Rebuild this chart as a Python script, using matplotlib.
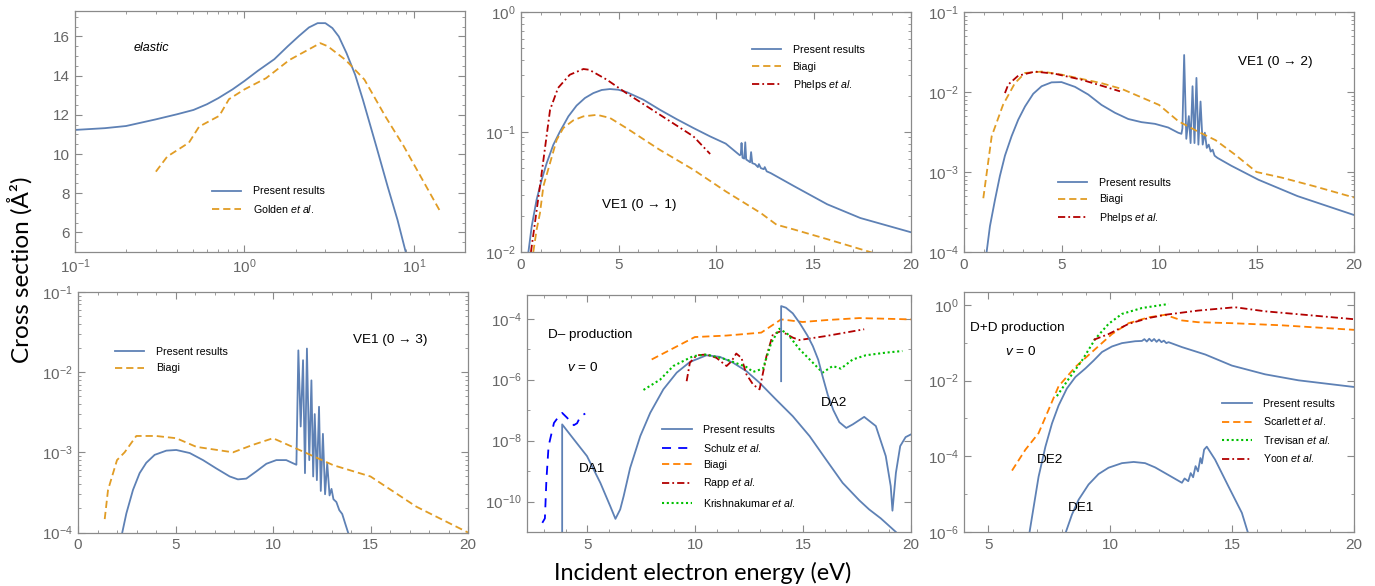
import numpy as np
import matplotlib
matplotlib.use('Agg')
import matplotlib.pyplot as plt
from matplotlib.ticker import MultipleLocator, NullFormatter, LogLocator

plt.rcParams['font.family'] = ['Liberation Sans', 'DejaVu Sans']
plt.rcParams['mathtext.fontset'] = 'custom'
plt.rcParams['mathtext.rm'] = 'Liberation Sans'
plt.rcParams['mathtext.it'] = 'Liberation Sans:italic'

# ---- data ----
# elastic
el_E = [0.1, 0.15, 0.2, 0.3, 0.4, 0.5, 0.6, 0.7, 0.85, 1.0, 1.2, 1.5, 1.8, 2.1, 2.4, 2.7, 3.0, 3.3, 3.6, 4.0, 4.5,
        5.0, 6.0, 7.0, 8.0, 9.0, 10.0]
el_sig = [11.23, 11.32, 11.43, 11.77, 12.03, 12.25, 12.54, 12.85, 13.3, 13.73, 14.25, 14.84, 15.5, 16.03, 16.46, 16.68,
          16.68, 16.43, 16.0, 15.15, 14.04, 12.76, 10.38, 8.33, 6.63, 4.9, 3.8]
golden_E = [0.3, 0.35, 0.47, 0.54, 0.71, 0.81, 1.0, 1.34, 1.84, 2.8, 3.1, 3.95, 5.1, 6.8, 8.7, 14.3]
golden_sig = [9.1, 9.87, 10.58, 11.4, 11.95, 12.8, 13.3, 13.87, 14.8, 15.66, 15.5, 14.8, 13.8, 11.9, 10.4, 7.06]

# VE1 (0 -> 1)
v1_E = [0.3, 0.38, 0.55, 0.8, 1.06, 1.32, 1.66, 2.0, 2.43, 2.85, 3.28, 3.71, 4.14, 4.56, 4.99, 5.42, 6.27, 7.13, 7.98,
        8.84, 9.69, 10.5, 11.22, 11.27, 11.31, 11.36, 11.45, 11.5, 11.55, 11.62, 11.75, 11.8, 11.86, 12.0, 12.15,
        12.2, 12.3, 12.45, 12.5, 12.6, 12.8, 14.0, 15.7, 17.4, 20.0]
v1_sig = [0.007, 0.01, 0.0164, 0.0273, 0.040, 0.0552, 0.0784, 0.101, 0.135, 0.166, 0.192, 0.211, 0.224, 0.228, 0.225,
          0.215, 0.186, 0.153, 0.128, 0.108, 0.092, 0.080, 0.064, 0.065, 0.081, 0.061, 0.060, 0.082, 0.059, 0.058,
          0.056, 0.068, 0.055, 0.054, 0.051, 0.054, 0.050, 0.049, 0.051, 0.047, 0.0455, 0.0354, 0.025, 0.0192, 0.0146]
v1_biagi_E = [0.63, 0.8, 0.97, 1.15, 1.49, 1.83, 2.17, 2.68, 3.2, 3.9, 4.56, 5.4, 7.1, 8.84, 10.5, 12.3, 13.1, 14.0, 15.7, 17.9, 19.0]
v1_biagi_sig = [0.01, 0.0153, 0.021, 0.0354, 0.0552, 0.086, 0.108, 0.125, 0.135, 0.139, 0.131, 0.108, 0.0713, 0.0485,
                0.032, 0.0211, 0.0169, 0.0154, 0.0128, 0.01, 0.0088]
v1_phelps_E = [0.51, 0.97, 1.49, 1.9, 2.5, 3.2, 3.5, 4.4, 5.4, 7.1, 8.84, 9.7]
v1_phelps_sig = [0.01, 0.0352, 0.153, 0.233, 0.30, 0.335, 0.33, 0.273, 0.211, 0.14, 0.092, 0.0656]

# VE1 (0 -> 2)
v2_E = [1.1, 1.16, 1.33, 1.59, 1.84, 2.1, 2.44, 2.78, 3.13, 3.55, 3.98, 4.49, 5.0, 5.69, 6.37, 7.05, 7.74, 8.42, 9.1,
        9.79, 10.47, 10.98, 11.15, 11.2, 11.29, 11.4, 11.53, 11.62, 11.72, 11.82, 11.92, 12.02, 12.13, 12.24, 12.35,
        12.45, 12.55, 12.65, 12.75, 12.85, 13.0, 13.7, 15.1, 17.1, 20.0]
v2_sig = [8e-5, 1e-4, 2.1e-4, 4.5e-4, 8.9e-4, 1.6e-3, 2.8e-3, 4.5e-3, 6.6e-3, 9.5e-3, 0.0118, 0.0132, 0.0133, 0.0116,
          9.3e-3, 6.9e-3, 5.5e-3, 4.6e-3, 4.2e-3, 4.0e-3, 3.6e-3, 3.1e-3, 3.0e-3, 3.5e-3, 0.029, 2.6e-3, 5e-3, 2.3e-3,
          0.0118, 2.3e-3, 0.015, 2.2e-3, 7.6e-3, 2.2e-3, 3.1e-3, 2.0e-3, 2.2e-3, 1.8e-3, 1.9e-3, 1.6e-3, 1.5e-3,
          1.2e-3, 8e-4, 5e-4, 2.9e-4]
v2_biagi_E = [0.99, 1.42, 2.0, 2.61, 3.13, 4.0, 5.0, 7.05, 8.1, 10.0, 11.0, 12.0, 12.9, 13.9, 15.0, 16.3, 18.0, 20.0]
v2_biagi_sig = [4.7e-4, 2.8e-3, 6.9e-3, 0.0129, 0.0173, 0.018, 0.0165, 0.0129, 0.0109, 6.9e-3, 4.3e-3, 3.2e-3, 2.5e-3, 1.65e-3, 1e-3, 8.5e-4, 6.6e-4, 4.8e-4]
v2_phelps_E = [2.1, 2.27, 2.78, 3.64, 4.66, 6.0, 7.05, 8.0]
v2_phelps_sig = [9.7e-3, 0.0124, 0.016, 0.018, 0.0169, 0.0143, 0.012, 0.0102]

# VE1 (0 -> 3)
v3_E = [2.2, 2.27, 2.48, 2.82, 3.16, 3.5, 3.93, 4.53, 5.04, 5.73, 6.41, 7.09, 7.78, 8.2, 8.63, 9.15, 9.66, 10.17, 10.68,
        11.03, 11.2, 11.3, 11.42, 11.54, 11.64, 11.74, 11.86, 11.97, 12.06, 12.14, 12.25, 12.36, 12.45, 12.56, 12.67,
        12.78, 12.9, 13.0, 13.1, 13.25, 13.4, 13.55, 13.7, 13.85, 14.0]
v3_sig = [8e-5, 1e-4, 1.73e-4, 3.4e-4, 5.5e-4, 7.4e-4, 9.3e-4, 1.05e-3, 1.07e-3, 9.8e-4, 8.0e-4, 6.3e-4, 5.0e-4, 4.6e-4,
          4.7e-4, 5.8e-4, 7.2e-4, 8.0e-4, 8.0e-4, 7.3e-4, 7.0e-4, 0.0187, 2.1e-3, 0.0141, 5.5e-4, 0.0197, 8e-4, 7.9e-3,
          5e-4, 3e-3, 4.5e-4, 3.7e-3, 3.3e-4, 1.7e-3, 3.0e-4, 7.4e-4, 2.9e-4, 3.5e-4, 2.6e-4, 2.4e-4, 1.9e-4, 1.7e-4,
          1.3e-4, 1e-4, 7e-5]
v3_biagi_E = [1.37, 1.54, 2.0, 2.39, 2.99, 4.0, 5.04, 6.07, 7.95, 8.97, 10.0, 11.0, 13.1, 15.0, 17.35, 20.0]
v3_biagi_sig = [1.47e-4, 3.4e-4, 8e-4, 1e-3, 1.6e-3, 1.6e-3, 1.5e-3, 1.17e-3, 1e-3, 1.24e-3, 1.5e-3, 1.17e-3, 6.9e-4, 5e-4, 2.1e-4, 1e-4]

# D- production
da1_E = [3.83, 3.83, 4.37, 4.98, 5.6, 6.06, 6.3, 6.52, 6.68, 6.98, 7.45, 7.91, 8.52, 9.14, 9.75, 10.52, 11.14, 11.75,
         12.37, 12.98, 13.75, 14.52, 15.3, 16.06, 16.83, 17.6, 18.06, 18.6, 19.3, 19.6]
da1_sig = [1e-12, 3.4e-8, 1.1e-8, 3.1e-9, 4.1e-10, 7e-11, 2.7e-11, 5.5e-11, 1.5e-10, 1.26e-9, 1.4e-8, 8.1e-8, 4.8e-7,
           1.7e-6, 3.8e-6, 6.3e-6, 5.6e-6, 3.6e-6, 1.9e-6, 7.9e-7, 2.2e-7, 6.3e-8, 1.4e-8, 2.4e-9, 4.1e-10, 1.1e-10,
           5.5e-11, 2.8e-11, 1e-11, 6e-12]
da2_E = [13.98, 13.98, 14.2, 14.52, 14.83, 15.2, 15.45, 15.7, 15.9, 16.14, 16.4, 16.68, 17.0, 17.3, 17.83, 18.37,
         18.83, 19.06, 19.14, 19.3, 19.5, 19.75, 20.0]
da2_sig = [8.9e-7, 2.6e-4, 2.3e-4, 1.5e-4, 7.4e-5, 2.8e-5, 1.26e-5, 4.5e-6, 1.3e-6, 3.2e-7, 1.0e-7, 4e-8, 2.6e-8,
           3.4e-8, 6e-8, 3e-8, 3.1e-9, 3.2e-10, 5e-11, 8.7e-10, 6.6e-9, 1.3e-8, 1.6e-8]
schulz_E = [2.91, 3.03, 3.1, 3.2, 3.45, 3.68, 3.83, 4.06, 4.37, 4.52, 4.68, 4.9]
schulz_sig = [2e-11, 2.8e-11, 5.2e-10, 6.6e-9, 3.8e-8, 6.3e-8, 8.1e-8, 5.6e-8, 3.2e-8, 3.7e-8, 6.3e-8, 7.7e-8]
dm_biagi_E = [7.98, 9.98, 11.45, 13.06, 13.98, 14.98, 16.06, 17.6, 20.0]
dm_biagi_sig = [4.6e-6, 2.5e-5, 2.8e-5, 3.5e-5, 9.5e-5, 7.8e-5, 9e-5, 1.05e-4, 9.5e-5]
rapp_E = [9.6, 9.75, 10.06, 10.52, 10.98, 11.45, 11.68, 11.9, 12.14, 12.37, 12.68, 12.98, 13.3, 13.6, 13.98, 14.52, 14.83, 16.06, 17.83]
rapp_sig = [8.9e-7, 3.6e-6, 6.3e-6, 6.7e-6, 5.2e-6, 2.8e-6, 4e-6, 7.2e-6, 5.2e-6, 1.5e-6, 6.9e-7, 4.8e-7, 5.9e-6, 3.1e-5, 3.9e-5, 2.4e-5, 2e-5, 2.7e-5, 4.5e-5]
krish_E = [7.6, 8.37, 8.98, 9.9, 10.52, 11.45, 12.37, 12.68, 13.14, 13.52, 13.9, 14.29, 14.83, 15.45, 15.9, 16.37, 16.75, 17.3, 17.9, 18.83, 19.6]
krish_sig = [4.6e-7, 1e-6, 2.8e-6, 5.9e-6, 6.7e-6, 4.6e-6, 2.6e-6, 1.8e-6, 2.3e-6, 1.6e-5, 4.7e-5, 3.1e-5, 1e-5, 3.6e-6, 1.7e-6, 2.8e-6, 2.3e-6, 4.6e-6, 6.3e-6, 7.7e-6, 8.7e-6]

# D+D production
de2_E = [6.6, 6.69, 6.86, 7.06, 7.34, 7.61, 7.88, 8.22, 8.57, 8.98, 9.32, 9.66, 10.07, 10.48, 11.02, 11.3, 11.4, 11.5,
         11.6, 11.7, 11.8, 11.9, 12.0, 12.1, 12.2, 12.3, 12.39, 12.94, 13.9, 14.99, 16.35, 17.72, 20.0]
de2_sig = [5e-7, 1e-6, 4.7e-6, 2.9e-5, 1.8e-4, 7.4e-4, 2.2e-3, 6.2e-3, 0.0125, 0.021, 0.034, 0.057, 0.08, 0.098, 0.11,
           0.112, 0.125, 0.108, 0.128, 0.11, 0.126, 0.106, 0.122, 0.104, 0.114, 0.098, 0.104, 0.077, 0.049, 0.025,
           0.0147, 0.0102, 6.8e-3]
de1_E = [8.1, 8.18, 8.43, 8.7, 9.11, 9.52, 9.93, 10.48, 10.96, 11.43, 11.84, 12.39, 12.94, 13.05, 13.2, 13.3, 13.4,
         13.5, 13.6, 13.7, 13.76, 13.85, 13.96, 14.3, 14.85, 15.4, 15.64, 15.8]
de1_sig = [6e-7, 1e-6, 2.9e-6, 7.1e-6, 1.8e-5, 3.4e-5, 5e-5, 6.6e-5, 7.1e-5, 6.6e-5, 5.1e-5, 3.2e-5, 2e-5, 2.6e-5,
           2.2e-5, 3.6e-5, 2.8e-5, 5.5e-5, 4e-5, 9e-5, 6.5e-5, 1.5e-4, 1.8e-4, 8.2e-5, 1.6e-5, 3.2e-6, 1e-6, 6e-7]
scarlett_E = [5.97, 6.52, 7.06, 7.47, 7.88, 8.57, 9.25, 10.07, 10.75, 11.57, 12.25, 12.94, 13.6, 14.99, 17.03, 20.0]
scarlett_sig = [4.2e-5, 1.5e-4, 4.1e-4, 1.7e-3, 7.1e-3, 0.023, 0.057, 0.17, 0.33, 0.47, 0.55, 0.39, 0.35, 0.33, 0.29, 0.22]
trevisan_E = [7.81, 8.29, 8.84, 9.39, 9.93, 10.48, 11.3, 12.39]
trevisan_sig = [3.9e-3, 0.011, 0.034, 0.128, 0.316, 0.58, 0.83, 1.06]
yoon_E = [9.32, 9.93, 10.75, 11.57, 12.25, 13.6, 15.12, 16.35, 18.4, 20.0]
yoon_sig = [0.12, 0.17, 0.316, 0.45, 0.55, 0.71, 0.87, 0.68, 0.52, 0.42]

# ---- styles ----
blue = '#5E81B5'
orange = '#E19C24'
orange2 = '#FF8000'
darkred = '#B20000'
green = '#00C000'
pureblue = '#0000FF'
gray = '#8a8a8a'
tickgray = '#666666'
dash = (0, (4, 2.2))
dashdot = (0, (4, 1.7, 1, 1.7))
dot = (0, (1, 1.3))
lw = 1.3

W, H = 1375, 586
fig = plt.figure(figsize=(W / 100, H / 100), dpi=100)


def make_ax(l, t, r, b):
    ax = fig.add_axes([l / W, 1 - b / H, (r - l) / W, (b - t) / H])
    for s in ax.spines.values():
        s.set_color(gray)
        s.set_linewidth(0.9)
    ax.tick_params(which='both', direction='in', top=True, right=True, colors=gray,
                   labelcolor=tickgray, labelsize=11, pad=4)
    ax.tick_params(which='major', length=5)
    ax.tick_params(which='minor', length=2.5)
    return ax


def leg(ax, x, y):
    ax.legend(loc='upper left', bbox_to_anchor=(x, y), frameon=False, fontsize=7.7,
              handlelength=2.75, handletextpad=1.05, labelspacing=0.6, borderpad=0, borderaxespad=0)


def log_y(ax, majors, minors):
    ax.set_yscale('log')
    ax.set_yticks(majors)
    ax.set_yticks(minors, minor=True)
    ax.yaxis.set_minor_formatter(NullFormatter())


txt = dict(fontsize=9.7, va='center')

# panel 1: elastic
ax1 = make_ax(75, 11, 465, 252)
ax1.plot(el_E, el_sig, color=blue, lw=lw, label='Present results')
ax1.plot(golden_E, golden_sig, color=orange, lw=lw, ls=dash, label='Golden $\\it{et\\ al.}$')
ax1.set_xscale('log')
ax1.set_xlim(0.1, 20)
ax1.set_ylim(5, 17.3)
ax1.set_yticks([6, 8, 10, 12, 14, 16])
ax1.yaxis.set_minor_locator(MultipleLocator(0.5))
ax1.xaxis.set_minor_locator(LogLocator(base=10, subs=np.arange(2, 10)))
ax1.xaxis.set_minor_formatter(NullFormatter())
leg(ax1, 0.351, 0.272)
ax1.text(0.149, 0.848, 'elastic', transform=ax1.transAxes, style='italic', fontsize=9, va='center')

# panel 2: VE1 0->1
ax2 = make_ax(521, 12, 911, 252)
ax2.plot(v1_E, v1_sig, color=blue, lw=lw, label='Present results')
ax2.plot(v1_biagi_E, v1_biagi_sig, color=orange, lw=lw, ls=dash, label='Biagi')
ax2.plot(v1_phelps_E, v1_phelps_sig, color=darkred, lw=lw, ls=dashdot, label='Phelps $\\it{et\\ al.}$')
log_y(ax2, [1e-2, 1e-1, 1e0], [k * 10.0 ** e for e in (-2, -1) for k in range(2, 10)])
ax2.set_ylim(1e-2, 1)
leg(ax2, 0.592, 0.862)
ax2.text(0.208, 0.196, 'VE1 (0 \u2192 1)', transform=ax2.transAxes, **txt)

# panel 3: VE1 0->2
ax3 = make_ax(964, 12, 1354, 252)
ax3.plot(v2_E, v2_sig, color=blue, lw=lw, label='Present results')
ax3.plot(v2_biagi_E, v2_biagi_sig, color=orange, lw=lw, ls=dash, label='Biagi')
ax3.plot(v2_phelps_E, v2_phelps_sig, color=darkred, lw=lw, ls=dashdot, label='Phelps $\\it{et\\ al.}$')
log_y(ax3, [1e-4, 1e-3, 1e-2, 1e-1], [k * 10.0 ** e for e in (-4, -3, -2) for k in range(2, 10)])
ax3.set_ylim(1e-4, 1e-1)
leg(ax3, 0.241, 0.308)
ax3.text(0.703, 0.792, 'VE1 (0 \u2192 2)', transform=ax3.transAxes, **txt)

# panel 4: VE1 0->3
ax4 = make_ax(78, 292, 468, 532.5)
ax4.plot(v3_E, v3_sig, color=blue, lw=lw, label='Present results')
ax4.plot(v3_biagi_E, v3_biagi_sig, color=orange, lw=lw, ls=dash, label='Biagi')
log_y(ax4, [1e-4, 1e-3, 1e-2, 1e-1], [k * 10.0 ** e for e in (-4, -3, -2) for k in range(2, 10)])
ax4.set_ylim(1e-4, 1e-1)
leg(ax4, 0.095, 0.771)
ax4.text(0.705, 0.80, 'VE1 (0 \u2192 3)', transform=ax4.transAxes, **txt)

# panel 5: D- production
ax5 = make_ax(527, 295, 911, 532)
ax5.plot(da1_E, da1_sig, color=blue, lw=lw, label='Present results')
ax5.plot(schulz_E, schulz_sig, color=pureblue, lw=lw, ls=(0, (5, 4)), label='Schulz $\\it{et\\ al.}$')
ax5.plot(dm_biagi_E, dm_biagi_sig, color=orange2, lw=lw, ls=dash, label='Biagi')
ax5.plot(rapp_E, rapp_sig, color=darkred, lw=lw, ls=dashdot, label='Rapp $\\it{et\\ al.}$')
ax5.plot(krish_E, krish_sig, color=green, lw=1.5, ls=dot, label='Krishnakumar $\\it{et\\ al.}$')
ax5.plot(da2_E, da2_sig, color=blue, lw=lw)
log_y(ax5, [1e-10, 1e-8, 1e-6, 1e-4], [1e-11, 1e-9, 1e-7, 1e-5])
ax5.set_ylim(1e-11, 6e-4)
leg(ax5, 0.352, 0.451)
ax5.text(0.055, 0.831, 'D\u2013 production', transform=ax5.transAxes, **txt)
ax5.text(0.104, 0.696, '$v$ = 0', transform=ax5.transAxes, **txt)
ax5.text(0.135, 0.266, 'DA1', transform=ax5.transAxes, **txt)
ax5.text(0.765, 0.546, 'DA2', transform=ax5.transAxes, **txt)

# panel 6: D+D production
ax6 = make_ax(964, 292, 1354, 532)
ax6.plot(de2_E, de2_sig, color=blue, lw=lw, label='Present results')
ax6.plot(scarlett_E, scarlett_sig, color=orange2, lw=lw, ls=dash, label='Scarlett $\\it{et\\ al.}$')
ax6.plot(trevisan_E, trevisan_sig, color=green, lw=1.5, ls=dot, label='Trevisan $\\it{et\\ al.}$')
ax6.plot(yoon_E, yoon_sig, color=darkred, lw=lw, ls=dashdot, label='Yoon $\\it{et\\ al.}$')
ax6.plot(de1_E, de1_sig, color=blue, lw=lw)
log_y(ax6, [1e-6, 1e-4, 1e-2, 1e0], [1e-5, 1e-3, 1e-1])
ax6.set_ylim(1e-6, 2.2)
leg(ax6, 0.662, 0.554)
ax6.text(0.015, 0.851, 'D+D production', transform=ax6.transAxes, **txt)
ax6.text(0.105, 0.751, '$v$ = 0', transform=ax6.transAxes, **txt)
ax6.text(0.186, 0.30, 'DE2', transform=ax6.transAxes, **txt)
ax6.text(0.267, 0.10, 'DE1', transform=ax6.transAxes, **txt)

for ax in (ax2, ax3, ax4, ax5, ax6):
    ax.set_xticks([0, 5, 10, 15, 20])
    ax.xaxis.set_minor_locator(MultipleLocator(1))
for ax in (ax2, ax3, ax4):
    ax.set_xlim(0, 20)
ax5.set_xlim(2.2, 20)
ax6.set_xlim(4, 20)

fig.text(20 / W, 1 - 270 / H, 'Cross section (\u00c5\u00b2)', rotation=90, ha='center', va='center',
         fontsize=17.5, family=['Lato', 'DejaVu Sans'])
fig.text(703 / W, 1 - 573 / H, 'Incident electron energy (eV)', ha='center', va='center',
         fontsize=16.8, family=['Lato', 'DejaVu Sans'])

fig.savefig('out.png', dpi=100)
